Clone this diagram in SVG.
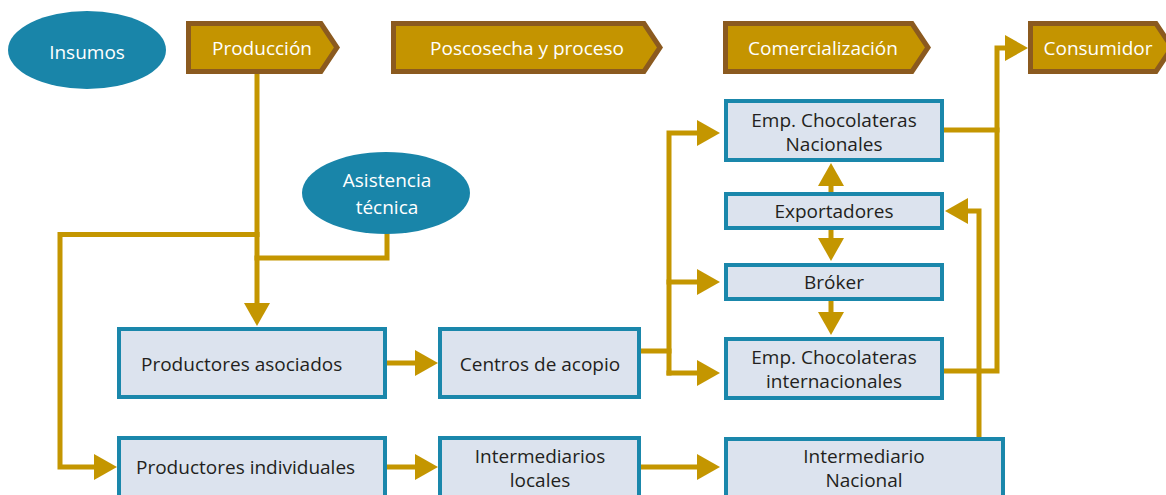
<svg xmlns="http://www.w3.org/2000/svg" width="1166" height="495" viewBox="0 0 1166 495">
<style>
text{font-family:"Open Sans","Noto Sans","DejaVu Sans",sans-serif;font-size:19px}
.tag polygon{fill:#C49400;stroke:#8B5A1F;stroke-width:5;stroke-linejoin:miter}
.tag text,.oval text{fill:#FFFFFF;text-anchor:middle}
.oval ellipse{fill:#1985A9}
.box rect{fill:#DCE3EE;stroke:#1A87AB;stroke-width:4}
.box text{fill:#231F20;text-anchor:middle}
#connectors path{fill:none;stroke:#C49600;stroke-width:5;stroke-linecap:square;stroke-linejoin:miter}
</style>
<defs>
<marker id="ah" markerUnits="userSpaceOnUse" markerWidth="23" markerHeight="26" viewBox="0 -13 23 26" refX="1" refY="0" orient="auto">
<path d="M0,-13 L23,0 L0,13 Z" fill="#C49600"/>
</marker>
</defs>
<rect width="1166" height="495" fill="#FFFFFF"/>
<g id="connectors">
<path d="M257,74 V304" marker-end="url(#ah)"/>
<path d="M257,234.5 H60 V467 H95" marker-end="url(#ah)"/>
<path d="M387,232 V258 H257"/>
<path d="M387,363 H416" marker-end="url(#ah)"/>
<path d="M387,467 H416" marker-end="url(#ah)"/>
<path d="M641,351 H669"/>
<path d="M669,373 V133 H698" marker-end="url(#ah)"/>
<path d="M669,282 H698" marker-end="url(#ah)"/>
<path d="M669,373 H698" marker-end="url(#ah)"/>
<path d="M831,192 V185" marker-end="url(#ah)"/>
<path d="M831,230 V239" marker-end="url(#ah)"/>
<path d="M831,301 V313" marker-end="url(#ah)"/>
<path d="M641,467 H698" marker-end="url(#ah)"/>
<path d="M944,130 H997"/>
<path d="M944,371 H997 V48 H1006" marker-end="url(#ah)"/>
<path d="M979,437 V211 H967" marker-end="url(#ah)"/>
</g>
<g id="insumos" class="oval">
<ellipse cx="87" cy="50" rx="79" ry="39"/>
<text x="87" y="59">Insumos</text>
</g>
<g id="produccion" class="tag">
<polygon points="188.5,23.5 321,23.5 337,47.5 321,71.5 188.5,71.5"/>
<text x="262" y="55">Producción</text>
</g>
<g id="poscosecha" class="tag">
<polygon points="393.5,23.5 644,23.5 660,47.5 644,71.5 393.5,71.5"/>
<text x="527" y="55">Poscosecha y proceso</text>
</g>
<g id="comercializacion" class="tag">
<polygon points="725.5,23.5 912,23.5 928,47.5 912,71.5 725.5,71.5"/>
<text x="823" y="55">Comercialización</text>
</g>
<g id="consumidor" class="tag">
<polygon points="1030.5,23.5 1156,23.5 1172,47.5 1156,71.5 1030.5,71.5"/>
<text x="1098" y="55">Consumidor</text>
</g>
<g id="asistencia" class="oval">
<ellipse cx="386" cy="193" rx="84" ry="41"/>
<text x="387" y="187">Asistencia</text>
<text x="387" y="214">técnica</text>
</g>
<g id="productores-asociados" class="box">
<rect x="119" y="329" width="266" height="68"/>
<text x="141" y="371" style="text-anchor:start">Productores asociados</text>
</g>
<g id="centros-acopio" class="box">
<rect x="440" y="329" width="199" height="68"/>
<text x="540" y="371">Centros de acopio</text>
</g>
<g id="productores-individuales" class="box">
<rect x="119" y="438" width="266" height="70"/>
<text x="136" y="474" style="text-anchor:start">Productores individuales</text>
</g>
<g id="intermediarios-locales" class="box">
<rect x="440" y="438" width="199" height="70"/>
<text x="540" y="463">Intermediarios</text>
<text x="540" y="487">locales</text>
</g>
<g id="emp-nacionales" class="box">
<rect x="726" y="101" width="216" height="59"/>
<text x="834" y="127">Emp. Chocolateras</text>
<text x="834" y="151">Nacionales</text>
</g>
<g id="exportadores" class="box">
<rect x="726" y="194" width="216" height="34"/>
<text x="834" y="218">Exportadores</text>
</g>
<g id="broker" class="box">
<rect x="726" y="265" width="216" height="34"/>
<text x="834" y="289">Bróker</text>
</g>
<g id="emp-internacionales" class="box">
<rect x="726" y="339" width="216" height="59"/>
<text x="834" y="364">Emp. Chocolateras</text>
<text x="834" y="388">internacionales</text>
</g>
<g id="intermediario-nacional" class="box">
<rect x="726" y="439" width="277" height="70"/>
<text x="864" y="463">Intermediario</text>
<text x="864" y="487">Nacional</text>
</g>
</svg>
